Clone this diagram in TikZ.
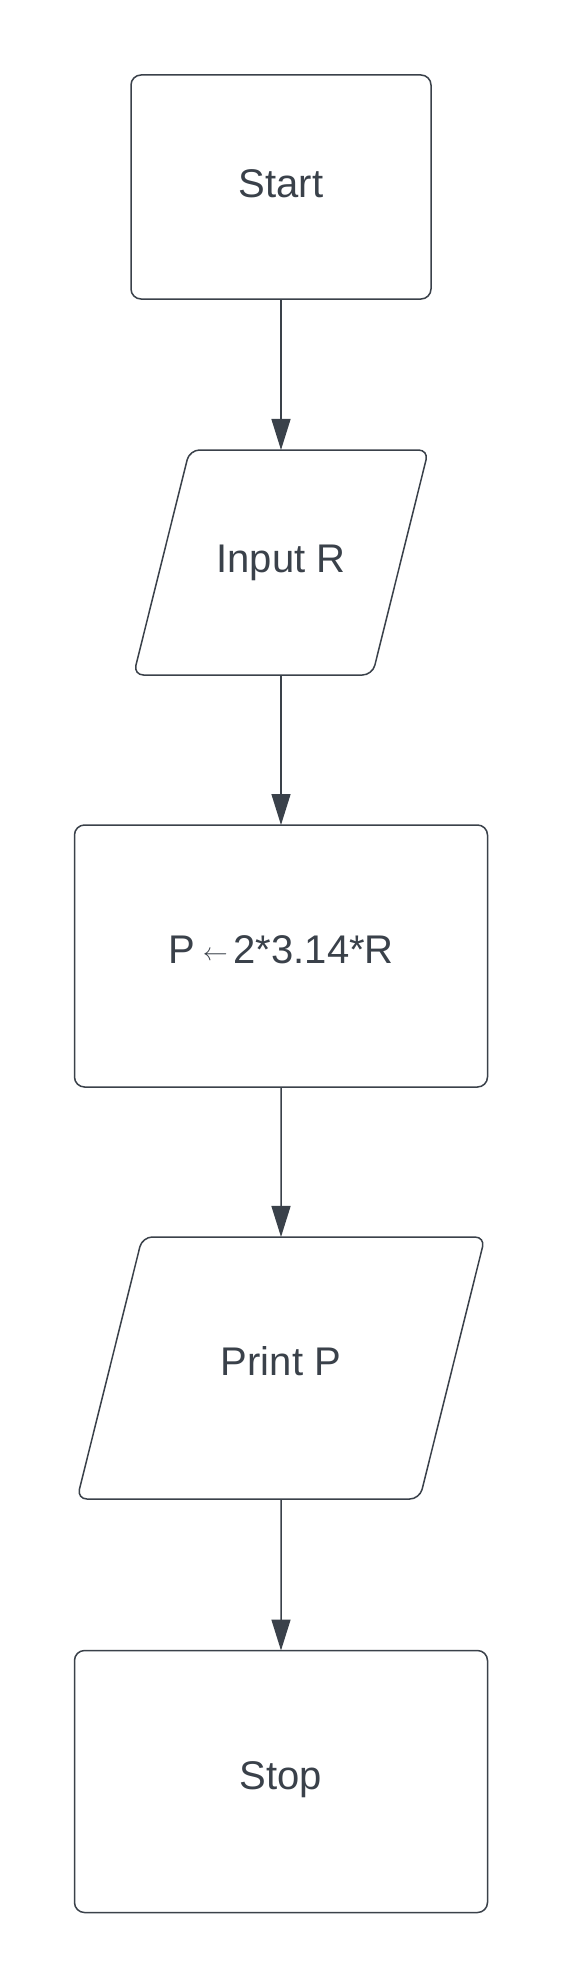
\documentclass[tikz,border=0pt]{standalone}
\usepackage{fontspec}
\setmainfont{Liberation Sans}
\usetikzlibrary{arrows.meta,shapes.geometric}
\definecolor{flowink}{HTML}{3A414A}

\begin{document}
\begin{tikzpicture}[
  x=1pt,y=-1pt,
  font=\fontsize{40}{48}\selectfont,
  line join=round,
  procbox/.style={draw=flowink,text=flowink,line width=1.5pt,
    rounded corners=10pt,inner sep=0pt,outer sep=0pt,
    text height=29pt,text depth=9pt,
    minimum width=413pt,minimum height=262pt},
  iobox/.style={draw=flowink,text=flowink,line width=1.5pt,
    rounded corners=10pt,inner xsep=0pt,outer sep=0pt,trapezium,
    trapezium left angle=76,trapezium right angle=104,
    trapezium stretches body,text height=29pt,text depth=9pt},
  flow/.style={draw=flowink,line width=1.5pt,
    -{Triangle[length=31pt,width=19pt]}}
]
  \useasboundingbox (0,0) rectangle (563,1988);

  % Flowchart steps, top to bottom.
  \node[procbox,minimum width=300pt,minimum height=224pt]
    (start) at (281,187) {Start};
  \node[iobox,inner ysep=93.5pt,minimum width=295pt]
    (input) at (281,562.5) {Input R};
  \node[procbox,text depth=14pt] (calc) at (281,956)
    {P\hspace{8pt}\raisebox{3pt}{\fontsize{25}{25}\selectfont$\leftarrow$}\hspace{6pt}2*3.14*R};
  \node[iobox,inner ysep=109.5pt,minimum width=408pt,text depth=14pt]
    (print) at (281,1368) {Print P};
  \node[procbox,text depth=14pt] (stop) at (281,1781.5) {Stop};

  % Connectors.
  \draw[flow] (start.south) -- (input.north);
  \draw[flow] (input.south) -- (calc.north);
  \draw[flow] (calc.south) -- (print.north);
  \draw[flow] (print.south) -- (stop.north);
\end{tikzpicture}
\end{document}
